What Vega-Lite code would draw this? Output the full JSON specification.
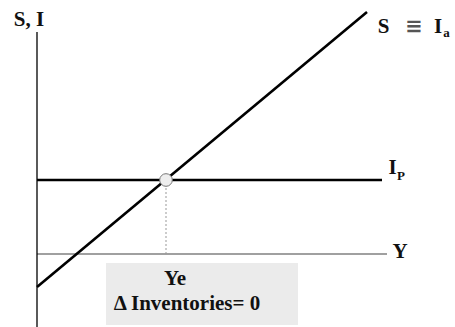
{
  "$schema": "https://vega.github.io/schema/vega-lite/v6.json",
  "width": 455,
  "height": 327,
  "autosize": {"type": "none"},
  "padding": 0,
  "background": "white",
  "config": {"view": {"stroke": null}},
  "datasets": {
    "lines": [
      {"series": "yaxis", "x": 0, "y": -73},
      {"series": "yaxis", "x": 0, "y": 222},
      {"series": "xaxis", "x": 0, "y": 0},
      {"series": "xaxis", "x": 350, "y": 0},
      {"series": "Ip", "x": 0, "y": 74},
      {"series": "Ip", "x": 345, "y": 74},
      {"series": "S", "x": 0, "y": -33},
      {"series": "S", "x": 330, "y": 242},
      {"series": "drop", "x": 129, "y": 0},
      {"series": "drop", "x": 129, "y": 67}
    ],
    "box": [{"x1": 69, "x2": 261, "y1": -9, "y2": -71}],
    "point": [{"x": 129, "y": 74}],
    "labels": [
      {"x": -8, "y": 234, "label": "S, I"},
      {"x": 346.5, "y": 227, "label": "S"},
      {"x": 401, "y": 227, "label": "I"},
      {"x": 355.5, "y": 86, "label": "I"},
      {"x": 363, "y": 2, "label": "Y"},
      {"x": 138, "y": -25, "label": "Ye"},
      {"x": 150, "y": -50, "label": "Δ Inventories= 0"}
    ],
    "subs": [
      {"x": 409.5, "y": 221, "label": "a"},
      {"x": 364, "y": 78, "label": "P"}
    ],
    "equiv": [{"x": 377, "y": 227, "label": "≡"}]
  },
  "layer": [
    {
      "data": {"name": "box"},
      "mark": {"type": "rect", "fill": "#ebebeb"},
      "encoding": {
        "x": {"field": "x1", "type": "quantitative", "scale": {"domain": [-37, 418], "nice": false, "zero": false}, "axis": null},
        "x2": {"field": "x2"},
        "y": {"field": "y1", "type": "quantitative", "scale": {"domain": [-73, 254], "nice": false, "zero": false}, "axis": null},
        "y2": {"field": "y2"}
      }
    },
    {
      "data": {"name": "lines"},
      "transform": [{"filter": "datum.series === 'xaxis'"}],
      "mark": {"type": "line", "stroke": "#808080", "strokeWidth": 1.3},
      "encoding": {
        "x": {"field": "x", "type": "quantitative"},
        "y": {"field": "y", "type": "quantitative"}
      }
    },
    {
      "data": {"name": "lines"},
      "transform": [{"filter": "datum.series === 'drop'"}],
      "mark": {"type": "line", "stroke": "#999999", "strokeWidth": 1, "strokeDash": [2, 2]},
      "encoding": {
        "x": {"field": "x", "type": "quantitative"},
        "y": {"field": "y", "type": "quantitative"}
      }
    },
    {
      "data": {"name": "lines"},
      "transform": [{"filter": "datum.series === 'yaxis'"}],
      "mark": {"type": "line", "stroke": "#000000", "strokeWidth": 1.3},
      "encoding": {
        "x": {"field": "x", "type": "quantitative"},
        "y": {"field": "y", "type": "quantitative"}
      }
    },
    {
      "data": {"name": "lines"},
      "transform": [{"filter": "datum.series === 'Ip' || datum.series === 'S'"}],
      "mark": {"type": "line", "stroke": "#000000", "strokeWidth": 2.6},
      "encoding": {
        "x": {"field": "x", "type": "quantitative"},
        "y": {"field": "y", "type": "quantitative"},
        "detail": {"field": "series"}
      }
    },
    {
      "data": {"name": "point"},
      "mark": {"type": "point", "shape": "circle", "filled": true, "fill": "#eeeeee", "stroke": "#777777", "strokeWidth": 1, "size": 160, "opacity": 1},
      "encoding": {
        "x": {"field": "x", "type": "quantitative"},
        "y": {"field": "y", "type": "quantitative"}
      }
    },
    {
      "data": {"name": "labels"},
      "mark": {"type": "text", "font": "Liberation Serif", "fontWeight": "bold", "fontSize": 21, "align": "center", "baseline": "middle", "color": "#111111"},
      "encoding": {
        "x": {"field": "x", "type": "quantitative"},
        "y": {"field": "y", "type": "quantitative"},
        "text": {"field": "label"}
      }
    },
    {
      "data": {"name": "subs"},
      "mark": {"type": "text", "font": "Liberation Serif", "fontWeight": "bold", "fontSize": 13, "align": "center", "baseline": "middle", "color": "#111111"},
      "encoding": {
        "x": {"field": "x", "type": "quantitative"},
        "y": {"field": "y", "type": "quantitative"},
        "text": {"field": "label"}
      }
    },
    {
      "data": {"name": "equiv"},
      "mark": {"type": "text", "font": "DejaVu Sans", "fontWeight": "bold", "fontSize": 21, "align": "center", "baseline": "middle", "color": "#555555"},
      "encoding": {
        "x": {"field": "x", "type": "quantitative"},
        "y": {"field": "y", "type": "quantitative"},
        "text": {"field": "label"}
      }
    }
  ]
}
